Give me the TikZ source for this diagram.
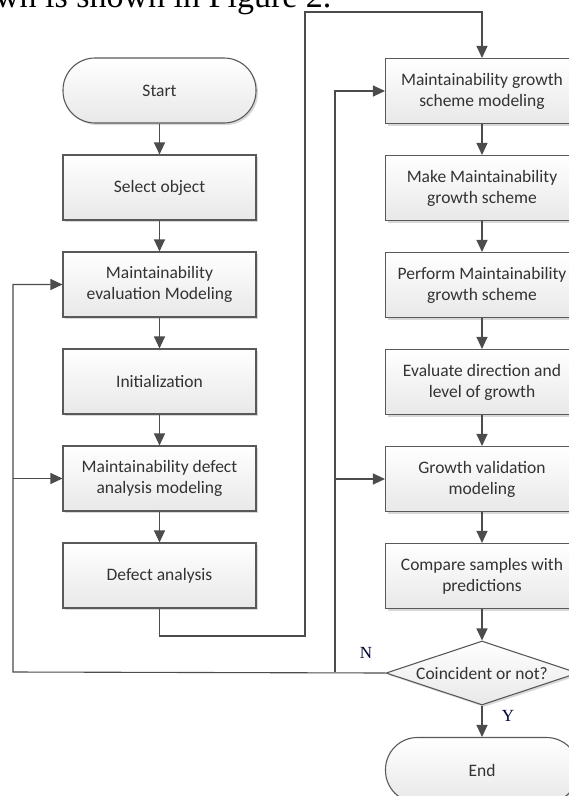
\documentclass[tikz,border=0pt]{standalone}
\usepackage{fontspec}
\setmainfont{Carlito}
\newfontfamily\paperfont{Liberation Serif}
\usetikzlibrary{positioning, shapes.geometric, arrows.meta, shadows}

\tikzset{
  boxbase/.style={draw=black!65, line width=1.1pt, top color=white, bottom color=black!9,
    text=black!80, font=\fontsize{17.5}{21}\selectfont,
    drop shadow={shadow xshift=2pt, shadow yshift=-2pt, fill=black!30, opacity=0.5}},
  flowbox/.style={boxbase, minimum width=193pt, minimum height=65pt, align=center},
  terminal/.style={flowbox, rounded corners=32pt},
  decision/.style={boxbase, diamond, aspect=3, inner sep=0pt, minimum width=192pt, minimum height=64pt},
  arr/.style={draw=black!70, line width=1.1pt, -{Triangle[length=12pt, width=11pt]}},
  yn/.style={font=\paperfont\fontsize{17}{17}\selectfont, text=blue!20!black}
}

\begin{document}
\begin{tikzpicture}[node distance=97pt]
  \useasboundingbox (0,0) rectangle (569pt,-796pt);

  % caption line of the paper, cut at the top
  \node[anchor=base west, inner sep=0pt, font=\paperfont\fontsize{34}{34}\selectfont] (cap) at (-5pt,-7pt) {wn is shown in Figure 2.};

  % left column
  \node[terminal] (st) at (159.5pt,-90.5pt) {Start};
  \node[flowbox] (so) [below of=st] {Select object};
  \node[flowbox] (em) [below of=so] {Maintainability\\evaluation Modeling};
  \node[flowbox] (in) [below of=em] {Initialization};
  \node[flowbox] (dm) [below of=in] {Maintainability defect\\analysis modeling};
  \node[flowbox] (da) [below of=dm] {Defect analysis};
  \draw[arr] (st) -- (so);
  \draw[arr] (so) -- (em);
  \draw[arr] (em) -- (in);
  \draw[arr] (in) -- (dm);
  \draw[arr] (dm) -- (da);

  % right column
  \begin{scope}[xshift=482pt, yshift=-91pt]
    \node[flowbox] (mg) {Maintainability growth\\scheme modeling};
    \node[flowbox] (mk) [below of=mg] {Make Maintainability\\growth scheme};
    \node[flowbox] (pf) [below of=mk] {Perform Maintainability\\growth scheme};
    \node[flowbox] (ev) [below of=pf] {Evaluate direction and\\level of growth};
    \node[flowbox] (gv) [below of=ev] {Growth validation\\modeling};
    \node[flowbox] (cs) [below of=gv] {Compare samples with\\predictions};
    \node[decision] (dec) [below of=cs] {Coincident or not?};
    \node[terminal] (en) [below of=dec] {End};
  \end{scope}
  \draw[arr] (mg) -- (mk);
  \draw[arr] (mk) -- (pf);
  \draw[arr] (pf) -- (ev);
  \draw[arr] (ev) -- (gv);
  \draw[arr] (gv) -- (cs);
  \draw[arr] (cs) -- (dec);
  \draw[arr] (dec) -- (en);

  % link between the columns
  \coordinate (jl) at (305pt,-636pt);
  \coordinate (jt) at (305pt,-12pt);
  \draw[arr] (da.south) |- (jl) -- (jt) -| (mg.north);

  % feedback from the decision
  \coordinate (fl) at (13pt,-672pt);
  \coordinate (fr) at (335pt,-672pt);
  \draw[arr] (dec.west) -- (fl) |- (em.west);
  \draw[arr] (fl |- dm.west) -- (dm.west);
  \draw[arr] (fr) |- (mg.west);
  \draw[arr] (fr |- gv.west) -- (gv.west);

  \node[yn] (no) at (366pt,-653pt) {N};
  \node[yn] (yes) at (508pt,-716pt) {Y};
\end{tikzpicture}
\end{document}
